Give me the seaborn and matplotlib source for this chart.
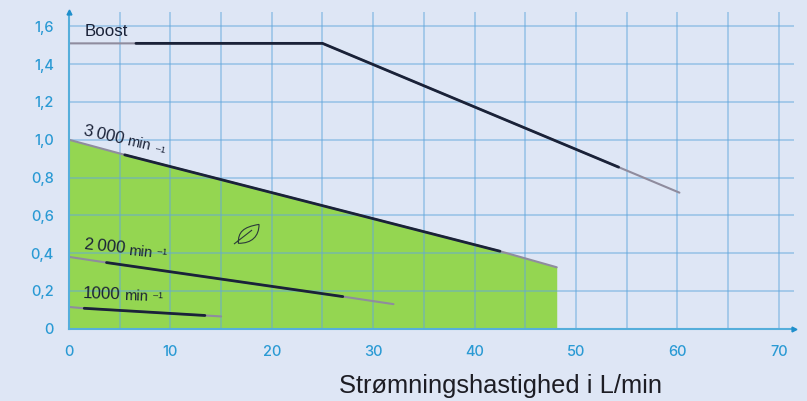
import matplotlib
matplotlib.use("Agg")
import matplotlib.pyplot as plt
from matplotlib.path import Path
from matplotlib.patches import PathPatch
from matplotlib.ticker import FuncFormatter, MultipleLocator
import pandas as pd
import seaborn as sns

BG = "#dee6f5"; GRID = "#62a8dc"; BLUE = "#2a9ad4"; AXIS = "#55aedb"
GREEN = "#94d651"; DARK = "#1a2238"; GRAY = "#8f8c9e"

boost_x = [0, 6.6, 25.0, 54.2, 60.2]
boost_y = [1.51, 1.51, 1.51, 0.855, 0.72]
r3000_x = [0, 5.5, 42.5, 48.1]
r3000_y = [1.0, 0.92, 0.41, 0.325]
r2000_x = [0, 3.7, 27.0, 32.0]
r2000_y = [0.38, 0.35, 0.17, 0.13]
r1000_x = [0, 1.5, 13.4, 15.0]
r1000_y = [0.115, 0.108, 0.07, 0.065]
series = [boost_x, boost_y], [r3000_x, r3000_y], [r2000_x, r2000_y], [r1000_x, r1000_y]
x_ticks = [0, 10, 20, 30, 40, 50, 60, 70]
y_ticks = [0, 0.2, 0.4, 0.6, 0.8, 1.0, 1.2, 1.4, 1.6]
x_title = "Strømningshastighed i L/min"

sns.set_theme(style="white")
plt.rcParams["font.family"] = ["Liberation Sans", "DejaVu Sans"]

W, H = 807, 401
fig = plt.figure(figsize=(W / 100, H / 100), dpi=100, facecolor=BG)
left, right, top, bottom = 69, 794, 12, 328.7
ax = fig.add_axes([left / W, 1 - bottom / H, (right - left) / W, (bottom - top) / H], facecolor=BG)

ax.fill_between(r3000_x, r3000_y, 0, color=GREEN, lw=0, zorder=1)

for xs, ys in series:
    gray = pd.DataFrame({"x": xs, "y": ys})
    dark = gray.iloc[1:-1]
    sns.lineplot(data=gray, x="x", y="y", ax=ax, color=GRAY, lw=1.5, zorder=3, sort=False, errorbar=None)
    sns.lineplot(data=dark, x="x", y="y", ax=ax, color=DARK, lw=2.0, zorder=4, sort=False, errorbar=None)

ax.set_xlim(0, 71.5)
ax.set_ylim(0, 1.676)
ax.set_xlabel(""); ax.set_ylabel("")
ax.set_xticks(x_ticks); ax.set_yticks(y_ticks)
ax.xaxis.set_minor_locator(MultipleLocator(5))
ax.set_axisbelow(False)
ax.grid(True, which="both", color=GRID, lw=1.2, alpha=0.55, zorder=2)
fmt = FuncFormatter(lambda v, _: "0" if v == 0 else f"{v:.1f}".replace(".", ","))
ax.yaxis.set_major_formatter(fmt)
ax.tick_params(axis="both", which="both", length=0, labelcolor=BLUE, labelsize=10.5)
ax.tick_params(axis="x", pad=12)
ax.tick_params(axis="y", pad=11)
for lab in ax.get_xticklabels() + ax.get_yticklabels():
    lab.set_fontfamily(["Inter", "Liberation Sans"])
    lab.set_fontweight("medium")

for s in ("top", "right"):
    ax.spines[s].set_visible(False)
for s in ("left", "bottom"):
    ax.spines[s].set_color(AXIS); ax.spines[s].set_linewidth(1.5); ax.spines[s].set_zorder(5)
ax.plot([1], [0], ">", color="#1f8fcc", ms=3.5, transform=ax.transAxes, clip_on=False, zorder=6)
ax.plot([0], [1], "^", color="#1f8fcc", ms=3.5, transform=ax.transAxes, clip_on=False, zorder=6)

def label(x, y, s, size, rot=0):
    ax.text(x, y, s, fontsize=size, color=DARK, rotation=rot, rotation_mode="anchor",
            ha="left", va="center", zorder=7)

label(1.5, 1.575, "Boost", 12.2)
label(1.45, 1.046, "3\u2009000", 12.2, -12.5)
label(5.7, 0.993, "min", 10.5, -12.5)
label(8.5, 0.955, "\u20131", 6.5, -12.5)
label(1.55, 0.443, "2\u2009000", 12.2, -5.5)
label(5.85, 0.411, "min", 10.5, -5.5)
label(8.7, 0.406, "\u20131", 6.5, -5.5)
label(1.4, 0.184, "1000", 12.2, -2)
label(5.4, 0.173, "min", 10.5, -2)
label(8.3, 0.178, "\u20131", 6.5, -2)

# leaf icon, in data units
leaf_v = [(16.7, 0.452), (16.67, 0.511), (17.16, 0.538), (18.74, 0.552),
          (18.74, 0.49), (18.05, 0.451), (16.7, 0.452),
          (16.27, 0.448), (18.05, 0.522)]
leaf_c = [Path.MOVETO, Path.CURVE4, Path.CURVE4, Path.CURVE4,
          Path.CURVE4, Path.CURVE4, Path.CURVE4,
          Path.MOVETO, Path.LINETO]
ax.add_patch(PathPatch(Path(leaf_v, leaf_c), fc="none", ec="#2b3a3a", lw=0.8, zorder=7))

fig.text(500.5 / W, 1 - 386 / H, x_title, fontsize=18.4, color="#1d1d24", ha="center", va="center")
fig.savefig("out.png", dpi=100, facecolor=BG)
